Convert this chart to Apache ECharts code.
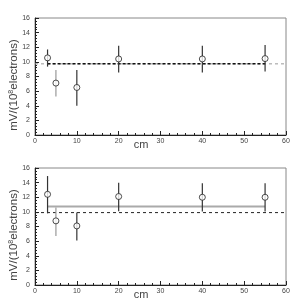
<!DOCTYPE html>
<html><head><meta charset="utf-8">
<script src="https://cdn.jsdelivr.net/npm/echarts@6/dist/echarts.min.js"></script>
<style>html,body{margin:0;padding:0;background:#fff}#c{width:303px;height:305px}</style>
</head><body><div id="c"></div>
<script>
const xs = [3, 5, 10, 20, 40, 55];
const topVals = [10.55, 7.1, 6.5, 10.4, 10.4, 10.45];
const topLo = [9.35, 5.25, 4.0, 8.55, 8.55, 8.7];
const topHi = [11.7, 8.9, 8.9, 12.2, 12.2, 12.3];
const botVals = [12.4, 8.77, 8.08, 12.1, 12.0, 12.0];
const botLo = [9.8, 6.7, 6.07, 10.1, 10.05, 10.05];
const botHi = [14.9, 10.6, 9.9, 14.0, 13.9, 13.9];
const barColors = ['#333', '#999', '#333', '#333', '#333', '#333'];
const topRef = 9.73;
const botFit = 10.73;
const botRef = 9.9;
const fitRange = [3, 55];
const xRange = [0, 60];

const chart = echarts.init(document.getElementById('c'), null, {renderer: 'canvas'});
const FONT = 'Liberation Sans, Arial, sans-serif';

function xAxisDef(gi) {
  return {
    gridIndex: gi, type: 'value', min: 0, max: 60, interval: 10,
    axisLine: {show: true, lineStyle: {color: '#222', width: 1}},
    axisTick: {show: true, inside: true, length: 4, lineStyle: {color: '#222'}},
    minorTick: {show: true, splitNumber: 5, length: 2, lineStyle: {color: '#222'}},
    splitLine: {show: false},
    axisLabel: {fontSize: 7, color: '#444', fontFamily: FONT, margin: 3}
  };
}
function yAxisDef(gi) {
  return {
    gridIndex: gi, type: 'value', min: 0, max: 16, interval: 2,
    axisLine: {show: true, lineStyle: {color: '#222', width: 1}},
    axisTick: {show: true, inside: true, length: 4, lineStyle: {color: '#222'}},
    minorTick: {show: true, splitNumber: 5, length: 2, lineStyle: {color: '#222'}},
    splitLine: {show: false},
    axisLabel: {fontSize: 7, color: '#444', fontFamily: FONT, margin: 5}
  };
}
function errSeries(gi, lo, hi) {
  return {
    type: 'custom', xAxisIndex: gi, yAxisIndex: gi, z: 3,
    data: xs.map((x, i) => [x, lo[i], hi[i]]),
    renderItem: function (params, api) {
      const p1 = api.coord([api.value(0), api.value(1)]);
      const p2 = api.coord([api.value(0), api.value(2)]);
      return {type: 'line', shape: {x1: p1[0], y1: p1[1], x2: p2[0], y2: p2[1]},
        style: {stroke: barColors[params.dataIndex], lineWidth: 1.2}};
    }
  };
}
function ptSeries(gi, vals) {
  return {
    type: 'scatter', xAxisIndex: gi, yAxisIndex: gi, z: 5,
    symbol: 'circle', symbolSize: 6,
    itemStyle: {color: '#fff', borderColor: '#222', borderWidth: 1},
    data: xs.map((x, i) => [x, vals[i]])
  };
}
function hline(gi, y, range, color, width, type, z) {
  return {
    type: 'line', xAxisIndex: gi, yAxisIndex: gi, z: z, symbol: 'none', silent: true,
    lineStyle: {color: color, width: width, type: type},
    data: [[range[0], y], [range[1], y]]
  };
}

const titleRich = {
  n: {fontSize: 11.5, fontFamily: FONT, fill: '#444'},
  s: {fontSize: 7, fontFamily: FONT, fill: '#444', verticalAlign: 'top', padding: [0, 0, 5, 0]}
};
function yTitle(cy) {
  return {
    type: 'text', x: 14, y: cy, rotation: Math.PI / 2,
    style: {
      text: '{n|mV/(10}{s|8}{n|electrons)}', rich: titleRich,
      align: 'center', verticalAlign: 'middle', fill: '#444'
    }
  };
}
function xTitle(cy) {
  return {
    type: 'text', x: 141, y: cy,
    style: {text: 'cm', font: '11px ' + FONT, fill: '#444', align: 'center', verticalAlign: 'middle'}
  };
}

chart.setOption({
  animation: false,
  grid: [
    {left: 35, top: 18, width: 251, height: 117, show: true, borderColor: '#888', borderWidth: 1, backgroundColor: 'transparent'},
    {left: 35, top: 168, width: 251, height: 117, show: true, borderColor: '#888', borderWidth: 1, backgroundColor: 'transparent'}
  ],
  xAxis: [xAxisDef(0), xAxisDef(1)],
  yAxis: [yAxisDef(0), yAxisDef(1)],
  series: [
    hline(0, topRef, xRange, '#999', 1, [3, 3], 2),
    hline(0, topRef, fitRange, '#111', 1.5, [3, 2], 2),
    errSeries(0, topLo, topHi),
    ptSeries(0, topVals),
    hline(1, botRef, xRange, '#222', 1, [3, 3], 2),
    hline(1, botFit, fitRange, '#aaa', 2, 'solid', 2),
    errSeries(1, botLo, botHi),
    ptSeries(1, botVals)
  ],
  graphic: [yTitle(85), xTitle(145), yTitle(235), xTitle(295)]
});
</script></body></html>
